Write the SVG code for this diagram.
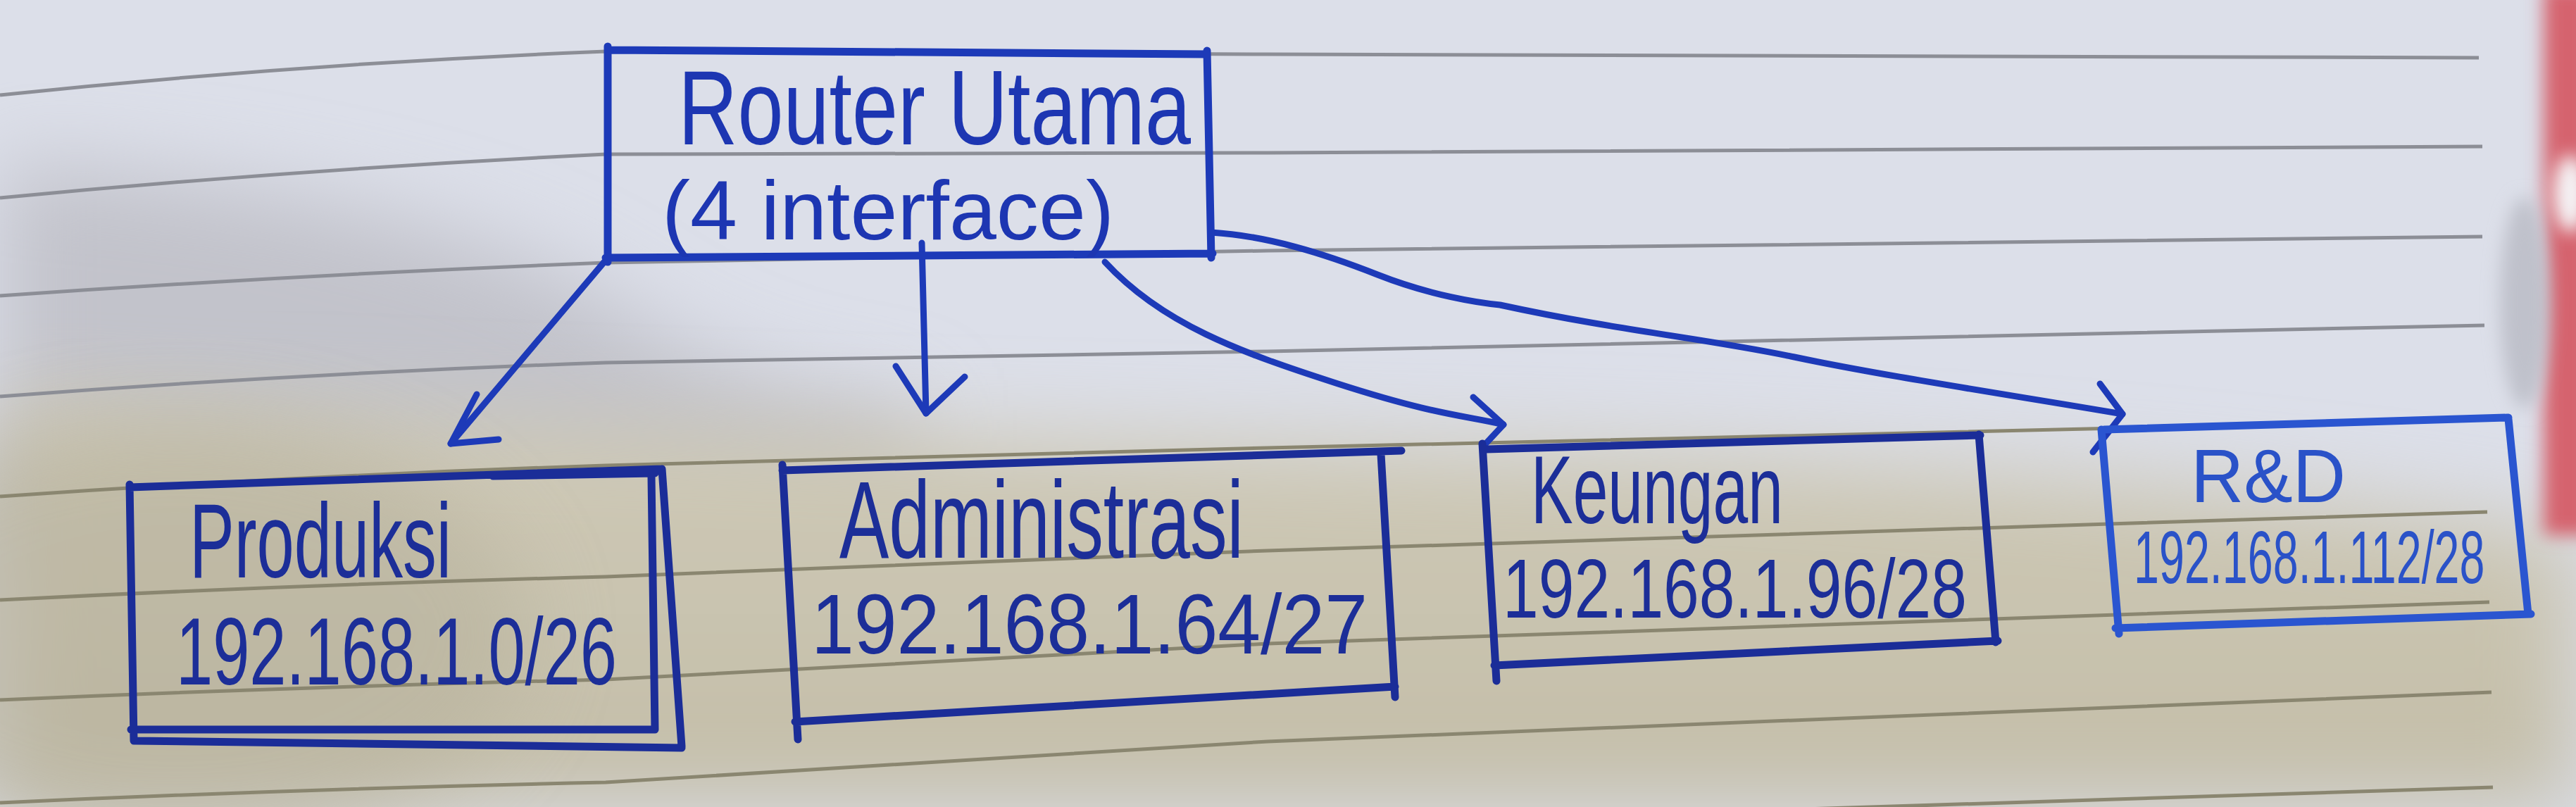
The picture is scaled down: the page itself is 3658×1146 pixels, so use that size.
<svg xmlns="http://www.w3.org/2000/svg" width="3658" height="1146" viewBox="0 0 3658 1146">
<defs>
<style>
.ink{fill:none;stroke:#1d3ab8;stroke-linecap:round;stroke-linejoin:round}
.box{stroke-width:11}
.navy{stroke:#1b2d98}
.light{stroke:#2a55d0}
.conn{stroke-width:9}
.rule{fill:none;stroke:#8c8e96;stroke-width:5}
.rule2{fill:none;stroke:#8a8670;stroke-width:5}
.t{font-family:'Liberation Sans',Arial,sans-serif;fill:#1d36b2}
.tn{fill:#1c2e98}
.tl{fill:#2a52c8}
</style>
<filter id="blur" x="-20%" y="-20%" width="140%" height="140%"><feGaussianBlur stdDeviation="60"/></filter>
<filter id="blur2" x="-50%" y="-50%" width="200%" height="200%"><feGaussianBlur stdDeviation="12"/></filter>
<linearGradient id="beige" x1="0" y1="0" x2="0" y2="1">
<stop offset="0" stop-color="#cfcab8"/>
<stop offset="1" stop-color="#c3bda7"/>
</linearGradient>
</defs>

<g id="background">
<rect x="0" y="0" width="3658" height="1146" fill="#dcdfe9"/>
<path d="M0,230 C300,250 650,300 850,420 C1000,520 1100,560 1300,580 L1300,760 L0,800 Z" fill="#c2c3cb" filter="url(#blur)"/>
<path d="M0,560 C600,600 1400,620 2200,640 C2800,660 3300,700 3658,760 L3658,1146 L0,1146 Z" fill="url(#beige)" filter="url(#blur)"/>
<ellipse cx="250" cy="900" rx="500" ry="300" fill="#b8b29d" opacity="0.6" filter="url(#blur)"/>
<rect x="3612" y="-20" width="70" height="780" fill="#d5636e" filter="url(#blur2)"/>
<ellipse cx="3650" cy="275" rx="25" ry="55" fill="#f4f2f4" filter="url(#blur2)"/>
<ellipse cx="3585" cy="430" rx="35" ry="150" fill="#bfc1cb" filter="url(#blur2)"/>
<path class="rule" d="M0,135 Q430,90 860,73 L1800,77 L3520,82"/>
<path class="rule" d="M0,281 Q430,240 860,219 L1800,217 L3525,208"/>
<path class="rule" d="M0,420 Q430,390 860,373 L1800,356 L3525,336"/>
<path class="rule" d="M0,563 Q430,530 860,515 L1800,499 L3528,462"/>
<path class="rule2" d="M0,705 Q430,675 860,661 L1800,636 L3530,596"/>
<path class="rule2" d="M0,852 Q430,830 860,819 L1800,782 L3532,727"/>
<path class="rule2" d="M0,994 Q430,975 860,965 L1800,914 L3535,855"/>
<path class="rule2" d="M0,1140 Q430,1120 860,1111 L1800,1053 L3538,983"/>
<path class="rule2" d="M1900,1170 L3540,1118"/>
</g>

<g id="connectors">
<path class="ink conn" d="M858,372 L640,630"/>
<path class="ink conn" d="M677,560 L640,630 L708,624"/>
<path class="ink conn" d="M1309,345 L1315,587"/>
<path class="ink conn" d="M1272,520 L1315,587 L1370,535"/>
<path class="ink conn" d="M1569,372 C1650,460 1760,500 1900,545 S2080,590 2135,603"/>
<path class="ink conn" d="M2092,564 L2135,603 L2106,634"/>
<path class="ink conn" d="M1720,330 C1800,335 1880,360 1956,390 S2100,430 2130,433 C2300,470 2420,480 2548,507 S2850,560 3014,588"/>
<path class="ink conn" d="M2982,545 L3014,588 L2972,642"/>
</g>

<g id="router-utama">
<path class="ink box" d="M863,71 L1714,77 M1714,72 L1720,366 M1722,360 L860,366 M863,66 L863,372"/>
<text class="t" x="963" y="205" font-size="150" textLength="728" lengthAdjust="spacingAndGlyphs">Router Utama</text>
<text class="t" x="940" y="340" font-size="118" textLength="642" lengthAdjust="spacingAndGlyphs">(4 interface)</text>
</g>

<g id="produksi">
<path class="ink box navy" d="M184,692 L940,666 M700,676 L930,672 M925,676 L930,1036 M930,1036 L186,1036 M184,688 L190,1052 M940,666 L968,1060 M192,1052 L968,1062"/>
<text class="t tn" x="269" y="820" font-size="150" textLength="372" lengthAdjust="spacingAndGlyphs">Produksi</text>
<text class="t tn" x="250" y="972" font-size="135" textLength="626" lengthAdjust="spacingAndGlyphs">192.168.1.0/26</text>
</g>

<g id="administrasi">
<path class="ink box navy" d="M1111,668 L1990,640 M1961,645 L1981,990 M1981,975 L1129,1025 M1111,660 L1133,1050"/>
<text class="t tn" x="1192" y="792" font-size="155" textLength="574" lengthAdjust="spacingAndGlyphs">Administrasi</text>
<text class="t tn" x="1152" y="928" font-size="120" textLength="790" lengthAdjust="spacingAndGlyphs">192.168.1.64/27</text>
</g>

<g id="keungan">
<path class="ink box navy" d="M2110,638 L2812,618 M2810,617 L2834,912 M2837,910 L2122,945 M2105,630 L2125,967"/>
<text class="t tn" x="2174" y="743" font-size="138" textLength="358" lengthAdjust="spacingAndGlyphs">Keungan</text>
<text class="t tn" x="2134" y="877" font-size="118" textLength="659" lengthAdjust="spacingAndGlyphs">192.168.1.96/28</text>
</g>

<g id="r-and-d">
<path class="ink box light" d="M2988,610 L3562,593 M3562,595 L3590,872 M3594,872 L3004,892 M2984,610 L3009,900"/>
<text class="t tl" x="3111" y="713" font-size="108" textLength="220" lengthAdjust="spacingAndGlyphs">R&amp;D</text>
<text class="t tl" transform="translate(3030,828) scale(0.61,1)" x="0" y="0" font-size="106">192.168.1.112/28</text>
</g>
</svg>
